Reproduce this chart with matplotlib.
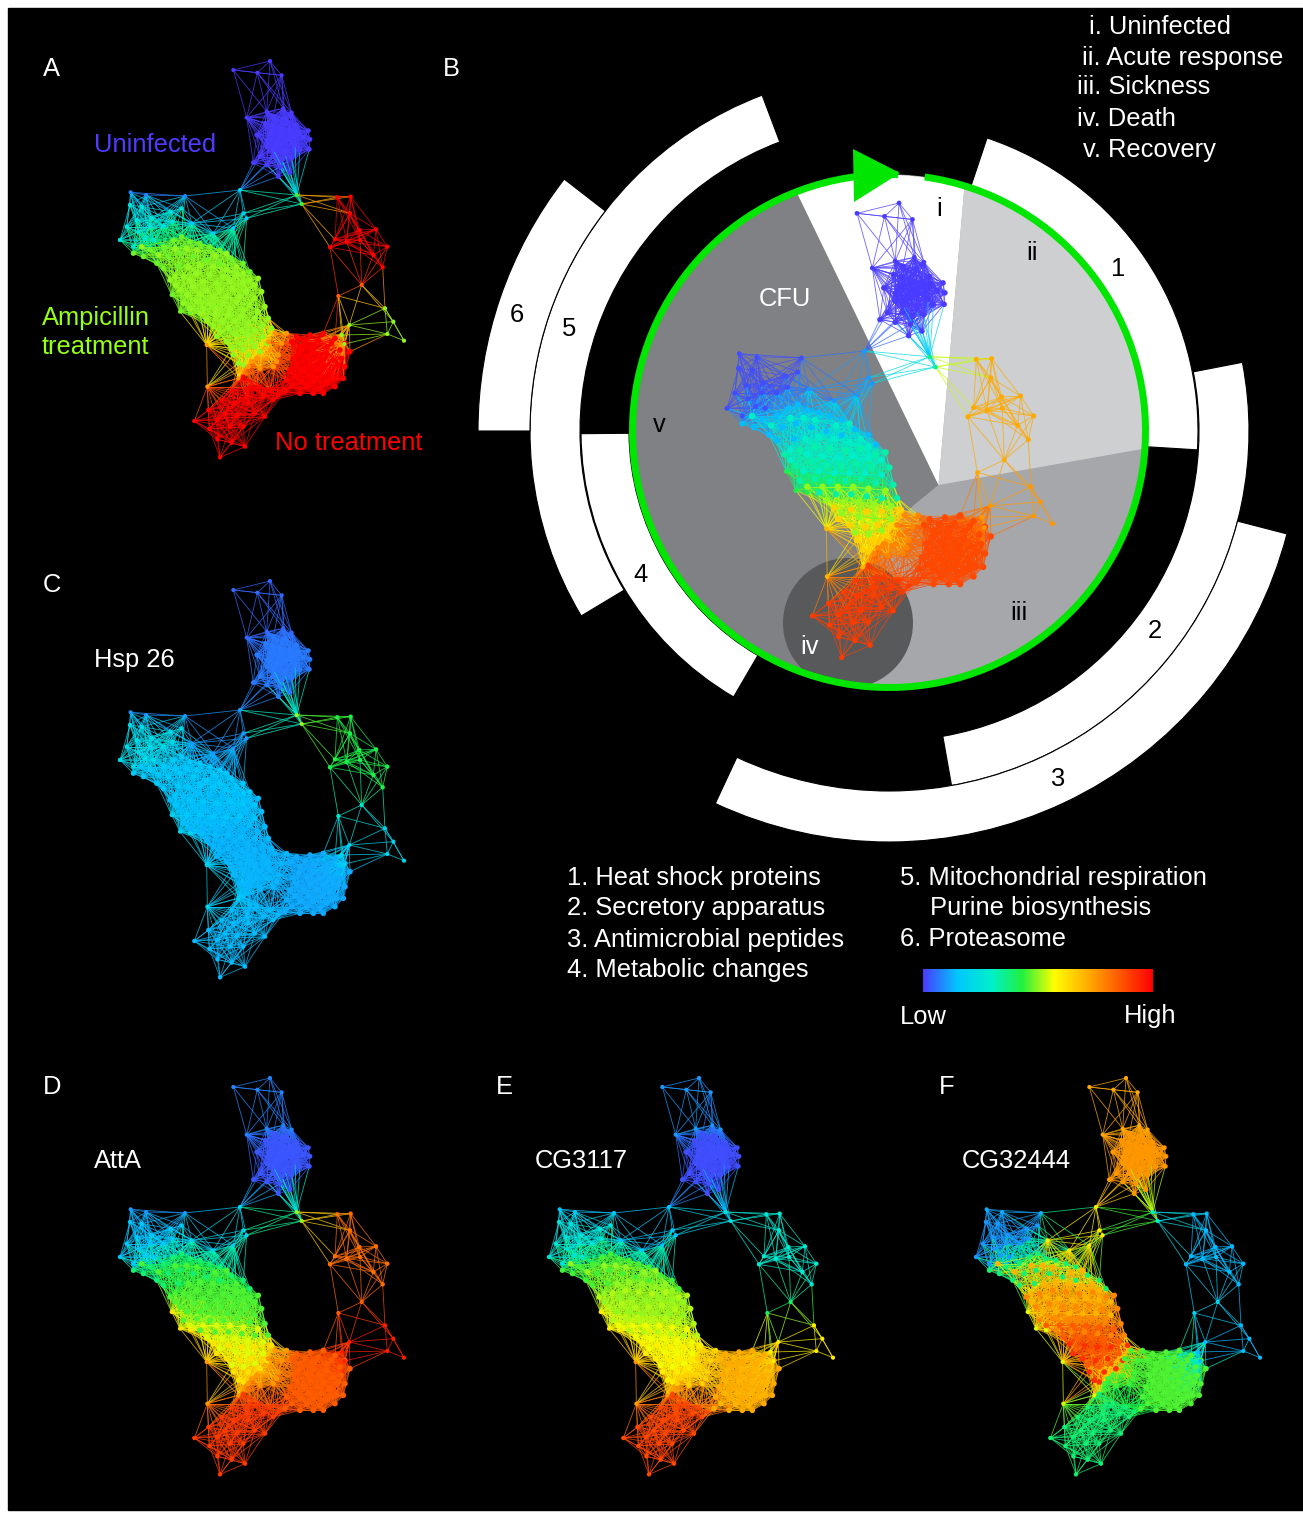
import numpy as np
import matplotlib
matplotlib.use("Agg")
import matplotlib.pyplot as plt
from matplotlib.collections import LineCollection
from matplotlib.colors import LinearSegmentedColormap
from matplotlib.patches import Wedge, Circle, Polygon, Rectangle

plt.rcParams['font.family'] = ['Liberation Sans', 'DejaVu Sans']

# network nodes by cluster (crop coordinates, 3x)
top_nodes = [(400,60),(472,68),(510,33),(545,76),(440,203),(500,185),(550,175),(575,188)]
blob_u = [(470,255),(495,220),(520,200),(555,205),(590,225),(625,242),(630,268),(628,298),(600,300),
          (610,262),(570,240),(540,235),(510,250),(530,280),(560,270),(585,285),(500,290),(480,320),
          (520,320),(555,310),(575,325),(460,338),(500,345),(535,380),(570,368),(540,350),
          (515,225),(580,260),(545,255),(500,270),(520,300),(545,330),(595,245)]
link_1 = [(420,420),(430,490),(440,505),(400,535),(340,550),(275,520)]
link_2 = [(255,438),(138,435),(92,427)]
link_3 = [(590,435),(605,462)]
cyan_left = [(90,465),(125,470),(155,505),(212,485),(245,475),(218,515),(80,530),(115,545),(135,565),
             (160,570),(100,590),(60,570),(190,530),(150,530),(110,510)]
amp_1 = [(100,610),(130,620),(170,640),(150,600),(190,590),(220,570),(245,560),(270,575),(300,580),
         (330,590),(360,600),(205,620),(240,610),(280,620),(320,630),(360,640),(395,625),(430,640),
         (450,665),(190,655),(235,650)]
amp_2 = [(210,690),(250,680),(290,670),(330,675),(370,680),(410,675),(450,690),(475,685),(240,720),
         (280,710),(320,720),(360,720),(400,715),(440,725),(485,725),(250,760),(290,755),(330,760),
         (370,760),(410,755),(450,765),(495,770),(300,790),(345,795),(385,795),(425,800),(465,805),(505,805)]
amp_3 = [(340,830),(350,860),(385,835),(425,840),(465,840),(515,835),(380,875),(420,880),(455,875),
         (500,880),(400,915),(415,940),(445,915),(480,905),(430,945)]
amp_low = [(215,735),(240,785),(270,790)]
red_1 = [(525,850),(560,850),(545,880),(510,900),(470,925),(500,925),(535,915),(445,950),(480,955),(520,950),
         (455,935),(530,935),(505,875)]
red_2 = [(590,860),(630,855),(670,850),(705,865),(735,880),(750,905),(600,890),(640,885),(680,890),
         (720,900),(580,925),(620,920),(660,925),(700,930),(735,950),(570,960),(610,960),(650,960),
         (690,965),(730,985),(560,990),(600,995),(640,995),(680,1000),(705,1010),(555,1025),(600,1030),
         (640,1030),(670,1030)]
low_link = [(320,885),(322,1010),(415,985)]
low_nodes = [(365,1050),(325,1080),(375,1090),(465,1090),(495,1100),(283,1113),(328,1137),(352,1168),
             (395,1178),(435,1190),(360,1222),(440,1040),(520,1050),(410,1100),(430,980),(470,1010),
             (510,1020),(445,1060)]
right_up = [(712,442),(752,440),(750,490),(828,538),(778,540),(705,568),(740,575),(690,592),(780,570),
            (862,590),(820,615),(848,652)]
right_mid = [(785,705),(715,738)]
right_low = [(855,775),(880,815),(862,852),(912,872),(748,825),(725,855),(733,882)]
amp_fill_1 = [(125,590),(175,615),(225,595),(260,595),(290,600),(345,615),(380,610),(410,650),(300,645),
              (340,650),(265,650),(380,660),(430,670),(225,680),(270,690),(310,695),(350,700),(390,695),
              (430,700),(465,705),(225,705),(260,735),(300,735),(340,740),(380,740),(420,740),(465,745)]
amp_fill_2 = [(270,775),(310,775),(350,775),(390,775),(430,780),(475,785),(320,810),(365,815),(405,815),
              (445,820),(490,825),(360,845),(405,855),(445,858),(490,860),(395,895),(430,900),(465,890)]
red_fill = [(575,875),(615,872),(655,870),(695,878),(725,925),(595,908),(640,905),(680,910),(715,945),
            (590,942),(630,942),(672,945),(710,985),(585,978),(625,978),(665,980),(575,1010),(620,1012),
            (660,1015),(695,990)]
low_fill = [(395,1020),(450,1010),(490,1040),(535,1035),(400,1060),(350,1110),(430,1130),(390,1130)]

clusters = [top_nodes, blob_u, link_1, link_2, link_3, cyan_left, amp_1, amp_2, amp_3, amp_low,
            red_1, red_2, low_link, low_nodes, right_up, right_mid, right_low,
            amp_fill_1, amp_fill_2, red_fill, low_fill]
link_reach = [85, 55, 95, 85, 100, 60, 50, 50, 50, 70, 50, 50, 90, 65, 75, 80, 75, 50, 50, 50, 55]
node_size = [9, 12, 9, 9, 9, 10, 14, 16, 16, 9, 14, 16, 9, 10, 10, 9, 9, 16, 16, 16, 10]

# colour level of each cluster in each panel (0 low, 1 high)
vals_a = [0, 0, .17, .08, .45, .25, .48, .5, .5, .48, .75, 1, .75, 1, 1, .85, .5, .5, .5, 1, 1]
vals_b = [0, 0, .1, .02, .35, .02, .14, .33, .65, .42, .78, .88, .7, .9, .72, .72, .75, .3, .5, .88, .9]
vals_c = [.05, .07, .1, .1, .5, .22, .16, .14, .13, .2, .13, .12, .2, .14, .42, .28, .2, .15, .13, .12, .14]
vals_d = [.08, .03, .2, .1, .5, .15, .38, .46, .62, .62, .75, .85, .75, .9, .82, .85, .95, .46, .55, .85, .9]
vals_e = [.1, .02, .15, .15, .25, .25, .45, .52, .6, .6, .65, .72, .75, .88, .28, .4, .6, .5, .56, .7, .88]
vals_f = [.72, .75, .6, .12, .3, .1, .38, .78, .92, .55, .45, .46, .55, .38, .14, .2, .14, .7, .85, .46, .38]

legend_left = ["1. Heat shock proteins", "2. Secretory apparatus", "3. Antimicrobial peptides", "4. Metabolic changes"]
legend_right = ["5. Mitochondrial respiration", "Purine biosynthesis", "6. Proteasome"]
stages = ["i. Uninfected", "ii. Acute response", "iii. Sickness", "iv. Death", "v. Recovery"]

# outer arcs: start and end angle clockwise from north, inner and outer radius
arc_spans = [(18.5, 93.5, 257, 309), (79, 170, 310, 360), (104.5, 205, 360, 411),
             (210.3, 269.5, 260, 308), (239, 339.3, 309, 359), (270, 307.8, 359, 411)]

W, H = 1303, 1513
cmap = LinearSegmentedColormap.from_list("heat", [(0, "#4a3cff"), (.15, "#00c8ff"), (.3, "#00f0c8"),
                                                  (.43, "#20f040"), (.57, "#ffff00"), (.75, "#ff9a00"), (1, "#ff0000")])

fig = plt.figure(figsize=(W / 100, H / 100), dpi=100, facecolor="white")
ax = fig.add_axes([0, 0, 1, 1])
ax.set_xlim(0, W)
ax.set_ylim(H, 0)
ax.axis("off")
ax.add_patch(Rectangle((8, 8), W - 8, 1502, color="black", zorder=0))


def draw_network(values, scale, x0, y0, zorder=5):
    xy, v, reach, sz = [], [], [], []
    for nodes, level, r, s in zip(clusters, values, link_reach, node_size):
        for p in nodes:
            xy.append(p)
            v.append(level)
            reach.append(r)
            sz.append(s)
    xy = np.array(xy, float)
    v = np.array(v)
    reach = np.array(reach)
    # crop coordinates to panel A pixels, then to this panel
    px = (xy[:, 0] / 3 + 100 - 120) * scale + x0
    py = (xy[:, 1] / 3 + 50 - 61) * scale + y0
    segs, cols = [], []
    for i in range(len(xy)):
        for j in range(i + 1, len(xy)):
            if np.hypot(*(xy[i] - xy[j])) < reach[i] + reach[j]:
                segs.append([(px[i], py[i]), (px[j], py[j])])
                cols.append(cmap((v[i] + v[j]) / 2))
    ax.add_collection(LineCollection(segs, colors=cols, linewidths=0.6, alpha=0.8, zorder=zorder))
    ax.scatter(px, py, s=np.array(sz) * scale ** 2, c=cmap(v), linewidths=0, zorder=zorder + 1)


# panel B circle
cx, cy, R = 889, 431, 256
apex = (938.5, 485)
disk = Circle((cx, cy), R, color="#a6a7aa", zorder=1)
ax.add_patch(disk)
sectors = [
    ([apex, (912.7, 506), (857.6, 561), (848, 623), (848, 700), (600, 700), (600, 100), (752, 100)], "#808184"),
    ([apex, (752, 100), (972, 100)], "#ffffff"),
    ([apex, (972, 100), (1250, 100), (1250, 430)], "#cdcfd1"),
]
for pts, col in sectors:
    p = Polygon(pts, closed=True, color=col, zorder=2, linewidth=0)
    ax.add_patch(p)
    p.set_clip_path(disk)
iv = Circle((848, 623), 65, color="#58595b", zorder=3, linewidth=0)
ax.add_patch(iv)
iv.set_clip_path(disk)

for a1, a2, r1, r2 in arc_spans:
    ax.add_patch(Wedge((cx, cy), r2, a1 - 90, a2 - 90, width=r2 - r1, facecolor="white",
                       edgecolor="black", linewidth=0.8, zorder=1))

ax.add_patch(Wedge((cx, cy), 260, 8 - 90, 362 - 90, width=7, color="#00e600", zorder=4, linewidth=0))
ax.add_patch(Polygon([(853, 149), (854, 202), (900, 173)], closed=True, color="#00e600", zorder=4, linewidth=0))

draw_network(vals_a, 1, 120, 61)
draw_network(vals_b, 1.147, 727, 203)
draw_network(vals_c, 1, 120, 581)
draw_network(vals_d, 1, 120, 1078)
draw_network(vals_e, 1, 549, 1078)
draw_network(vals_f, 1, 976, 1078)

grad = np.linspace(0, 1, 256).reshape(1, -1)
ax.imshow(grad, cmap=cmap, extent=(923, 1153, 992, 969), aspect="auto", zorder=3)
ax.set_xlim(0, W)
ax.set_ylim(H, 0)


def label(x, y, s, color="white", ha="left", size=18.4):
    ax.text(x, y + 1.5, s, color=color, fontsize=size, ha=ha, va="center", zorder=10)


for s, x, y in [("A", 51, 67), ("B", 451, 67), ("C", 52, 584), ("D", 52, 1086), ("E", 504, 1086), ("F", 947, 1086)]:
    label(x, y, s, ha="center")

label(94, 144, "Uninfected", color="#4f3cff")
label(42, 316, "Ampicillin", color="#96ff14")
label(42, 346, "treatment", color="#96ff14")
label(275, 442, "No treatment", color="#ff0000")
label(94, 658, "Hsp 26")
label(94, 1159, "AttA")
label(535, 1159, "CG3117")
label(962, 1159, "CG32444")

for s, x, y in zip(stages, [1089, 1082, 1077, 1077, 1083], [25, 56, 86, 117, 148]):
    label(x, y, s)
for s, x, y in [("1", 1118, 268), ("2", 1155, 630), ("3", 1057, 777), ("4", 640, 573), ("5", 569, 328),
                ("6", 517, 314), ("i", 939, 207), ("ii", 1032, 251), ("iii", 1019, 612), ("v", 659, 424)]:
    label(x, y, s, color="black", ha="center")
label(810, 646, "iv", ha="center")
label(785, 297, "CFU", ha="center")

for s, y in zip(legend_left, [877, 907, 938, 968]):
    label(567, y, s)
for s, x, y in zip(legend_right, [900, 930, 900], [877, 907, 938]):
    label(x, y, s)
label(900, 1015, "Low")
label(1124, 1015, "High")

plt.savefig("out.png", dpi=100, facecolor="white")
